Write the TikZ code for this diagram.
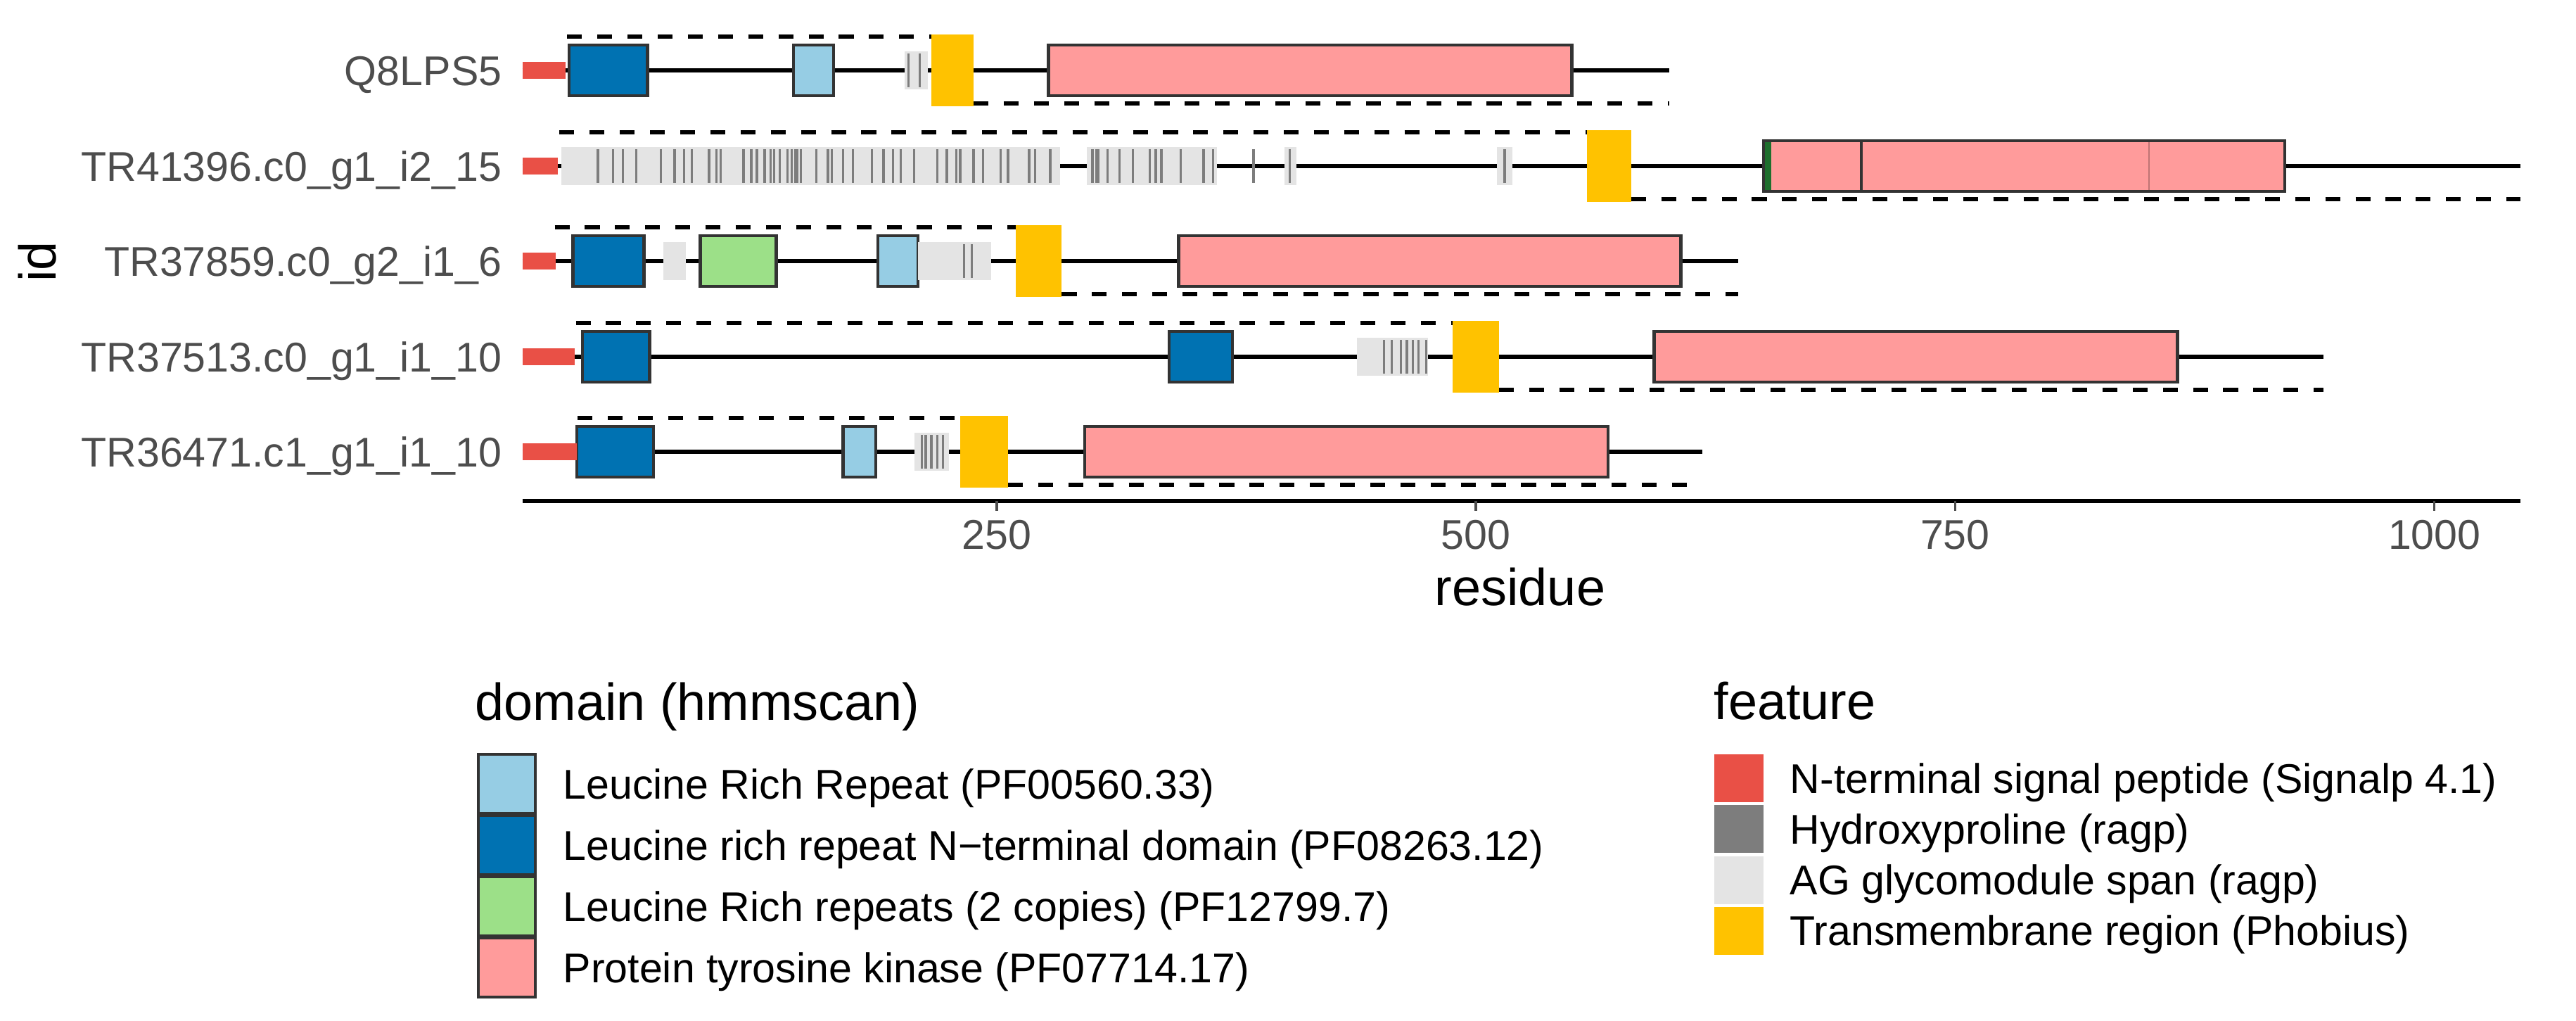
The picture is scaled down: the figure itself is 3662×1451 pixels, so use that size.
\documentclass[tikz,border=0pt]{standalone}
\usepackage{fontspec}
\setmainfont{Liberation Sans}
\definecolor{sigred}{RGB}{233,80,70}
\definecolor{hypgray}{RGB}{125,125,125}
\definecolor{aggray}{RGB}{228,228,228}
\definecolor{tmyellow}{RGB}{255,194,0}
\definecolor{lrrblue}{RGB}{150,205,228}
\definecolor{ntblue}{RGB}{0,114,178}
\definecolor{lrrgreen}{RGB}{156,224,136}
\definecolor{pkpink}{RGB}{255,155,155}
\definecolor{axgray}{RGB}{77,77,77}
\definecolor{dkgreen}{RGB}{30,110,45}
\newcommand{\smalltxt}{\fontsize{16.8pt}{20pt}\selectfont}
\newcommand{\titletxt}{\fontsize{21pt}{25pt}\selectfont}
\begin{document}
\begin{tikzpicture}[x=0.01cm,y=-0.01cm,
   dom/.style={draw=black!80,line width=1.3pt},
   bone/.style={line width=1.7pt},
   topo/.style={line width=1.6pt,dash pattern=on 6pt off 6.2pt},
   ag/.style={fill=aggray},
   hyp/.style={fill=hypgray},
   tm/.style={fill=tmyellow},
   sig/.style={fill=sigred},
   idlab/.style={anchor=base east,inner sep=0pt,text=axgray,font=\smalltxt},
   ticklab/.style={anchor=base,inner sep=0pt,text=axgray,font=\smalltxt},
   ttl/.style={inner sep=0pt,font=\titletxt},
   legtxt/.style={anchor=base west,inner sep=0pt,font=\smalltxt}]
   \useasboundingbox (0,0) rectangle (3662,1451);
   % подписи по оси id
   \node[idlab] (idQ) at (714,121) {Q8LPS5};
   \node[idlab] (idA) at (714,257) {TR41396.c0\_g1\_i2\_15};
   \node[idlab] (idB) at (714,392) {TR37859.c0\_g2\_i1\_6};
   \node[idlab] (idC) at (714,528) {TR37513.c0\_g1\_i1\_10};
   \node[idlab] (idD) at (714,663) {TR36471.c1\_g1\_i1\_10};
   \node[ttl,rotate=90,anchor=base] (idttl) at (79,372) {id};
   %
   \begin{scope}[shift={(7.35cm,0)},x=0.02724cm]
   % Q8LPS5
   \begin{scope}[shift={(0,100)}]
      \draw[bone] (2.6,0) -- (601,0);
      \draw[topo] (26,-48) -- (216,-48);
      \draw[topo] (238,47) -- (601,47);
      \draw[dom,fill=ntblue] (27,-36) rectangle (68,36);
      \draw[dom,fill=lrrblue] (144,-36) rectangle (165,36);
      \draw[dom,fill=pkpink] (277,-36) rectangle (550,36);
      \fill[ag] (202,-27) rectangle (214,27);
      \foreach \h in {204,210} \fill[hyp] ({\h-0.6},-24) rectangle ({\h+0.6},24);
      \fill[tm] (216,-51) rectangle (238,51);
      \fill[sig] (2.6,-12) rectangle (25,12);
   \end{scope}
   % TR41396
   \begin{scope}[shift={(0,236)}]
      \draw[bone] (2.6,0) -- (1045,0);
      \draw[topo] (22,-48) -- (558,-48);
      \draw[topo] (581,47) -- (1045,47);
      \draw[dom,fill=pkpink] (650,-36) rectangle (851,36);
      \draw[dom,fill=pkpink] (701,-36) rectangle (922,36);
      \draw[pkpink!75!black,line width=0.6pt] (851,-34) -- (851,34);
      \fill[dkgreen] (650.8,-34) rectangle (654,34);
      \fill[ag] (23,-27) rectangle (283,27);
      \fill[ag] (297,-27) rectangle (365,27);
      \fill[ag] (400,-27) rectangle (406.5,27);
      \fill[ag] (511,-27) rectangle (519,27);
      \foreach \h in {42,50,55,62,75,82,87,91,100,104,106,118,122,125,129,132,134,137,141,143,145,146,148,156,162,164,170,175,185,191,196,200,207,219,224,229,231,238,243,252,256,267,270,278,300,302,303,308,314,321,330,333,336,346,358,363,384,403,515}
         \fill[hyp] ({\h-0.6},-24) rectangle ({\h+0.6},24);
      \fill[tm] (558,-51) rectangle (581,51);
      \fill[sig] (2.6,-12) rectangle (21,12);
   \end{scope}
   % TR37859
   \begin{scope}[shift={(0,371)}]
      \draw[bone] (2.6,0) -- (637,0);
      \draw[topo] (19.5,-48) -- (260,-48);
      \draw[topo] (284,47) -- (637,47);
      \draw[dom,fill=ntblue] (29,-36) rectangle (66,36);
      \draw[dom,fill=lrrgreen] (95.5,-36) rectangle (135,36);
      \draw[dom,fill=lrrblue] (188,-36) rectangle (209,36);
      \draw[dom,fill=pkpink] (345,-36) rectangle (607,36);
      \fill[ag] (76,-27) rectangle (88,27);
      \fill[ag] (209,-27) rectangle (247,27);
      \foreach \h in {233,237} \fill[hyp] ({\h-0.6},-24) rectangle ({\h+0.6},24);
      \fill[tm] (260,-51) rectangle (284,51);
      \fill[sig] (2.6,-12) rectangle (20,12);
   \end{scope}
   % TR37513
   \begin{scope}[shift={(0,507)}]
      \draw[bone] (2.6,0) -- (942,0);
      \draw[topo] (30.5,-48) -- (488,-48);
      \draw[topo] (512,47) -- (942,47);
      \draw[dom,fill=ntblue] (34,-36) rectangle (69,36);
      \draw[dom,fill=ntblue] (340,-36) rectangle (373,36);
      \draw[dom,fill=pkpink] (593,-36) rectangle (866,36);
      \fill[ag] (438,-27) rectangle (475,27);
      \foreach \h in {452,456,461,464,467,470,474} \fill[hyp] ({\h-0.6},-24) rectangle ({\h+0.6},24);
      \fill[tm] (488,-51) rectangle (512,51);
      \fill[sig] (2.6,-12) rectangle (30,12);
   \end{scope}
   % TR36471
   \begin{scope}[shift={(0,642)}]
      \draw[bone] (2.6,0) -- (618,0);
      \draw[topo] (31.5,-48) -- (231,-48);
      \draw[topo] (256,47) -- (618,47);
      \draw[dom,fill=ntblue] (31,-36) rectangle (71,36);
      \draw[dom,fill=lrrblue] (170,-36) rectangle (187,36);
      \draw[dom,fill=pkpink] (296,-36) rectangle (569,36);
      \fill[ag] (207,-27) rectangle (225,27);
      \foreach \h in {211,213,216,219,222} \fill[hyp] ({\h-0.6},-24) rectangle ({\h+0.6},24);
      \fill[tm] (231,-51) rectangle (256,51);
      \fill[sig] (2.6,-12) rectangle (31,12);
   \end{scope}
   % ось residue
   \draw[line width=1.7pt] (2.6,712) -- (1045,712);
   \foreach \t in {250,500,750,1000} {
      \draw[axgray,line width=1pt] (\t,712) -- (\t,726);
      \node[ticklab] (tk\t) at (\t,780) {\t};
   }
   \end{scope}
   \node[ttl,anchor=base] (resttl) at (2161,860) {residue};
   % легенда domain
   \node[ttl,anchor=base west] (domttl) at (675,1023) {domain (hmmscan)};
   \foreach \c/\t [count=\i from 0] in {lrrblue/Leucine Rich Repeat (PF00560.33),ntblue/Leucine rich repeat N−terminal domain (PF08263.12),lrrgreen/Leucine Rich repeats (2 copies) (PF12799.7),pkpink/Protein tyrosine kinase (PF07714.17)} {
      \draw[dom,fill=\c] (680,{1072+87*\i}) rectangle (761,{1156+87*\i});
      \node[legtxt] (dom\i) at (800,{1135+87*\i}) {\t};
   }
   % легенда feature
   \node[ttl,anchor=base west] (featttl) at (2436,1022) {feature};
   \foreach \c/\t [count=\i from 0] in {sigred/N-terminal signal peptide (Signalp 4.1),hypgray/Hydroxyproline (ragp),aggray/AG glycomodule span (ragp),tmyellow/Transmembrane region (Phobius)} {
      \fill[\c] (2437,{1072+72.3*\i}) rectangle (2507,{1140+72.3*\i});
      \node[legtxt] (feat\i) at (2544,{1127+72.3*\i}) {\t};
   }
\end{tikzpicture}
\end{document}
